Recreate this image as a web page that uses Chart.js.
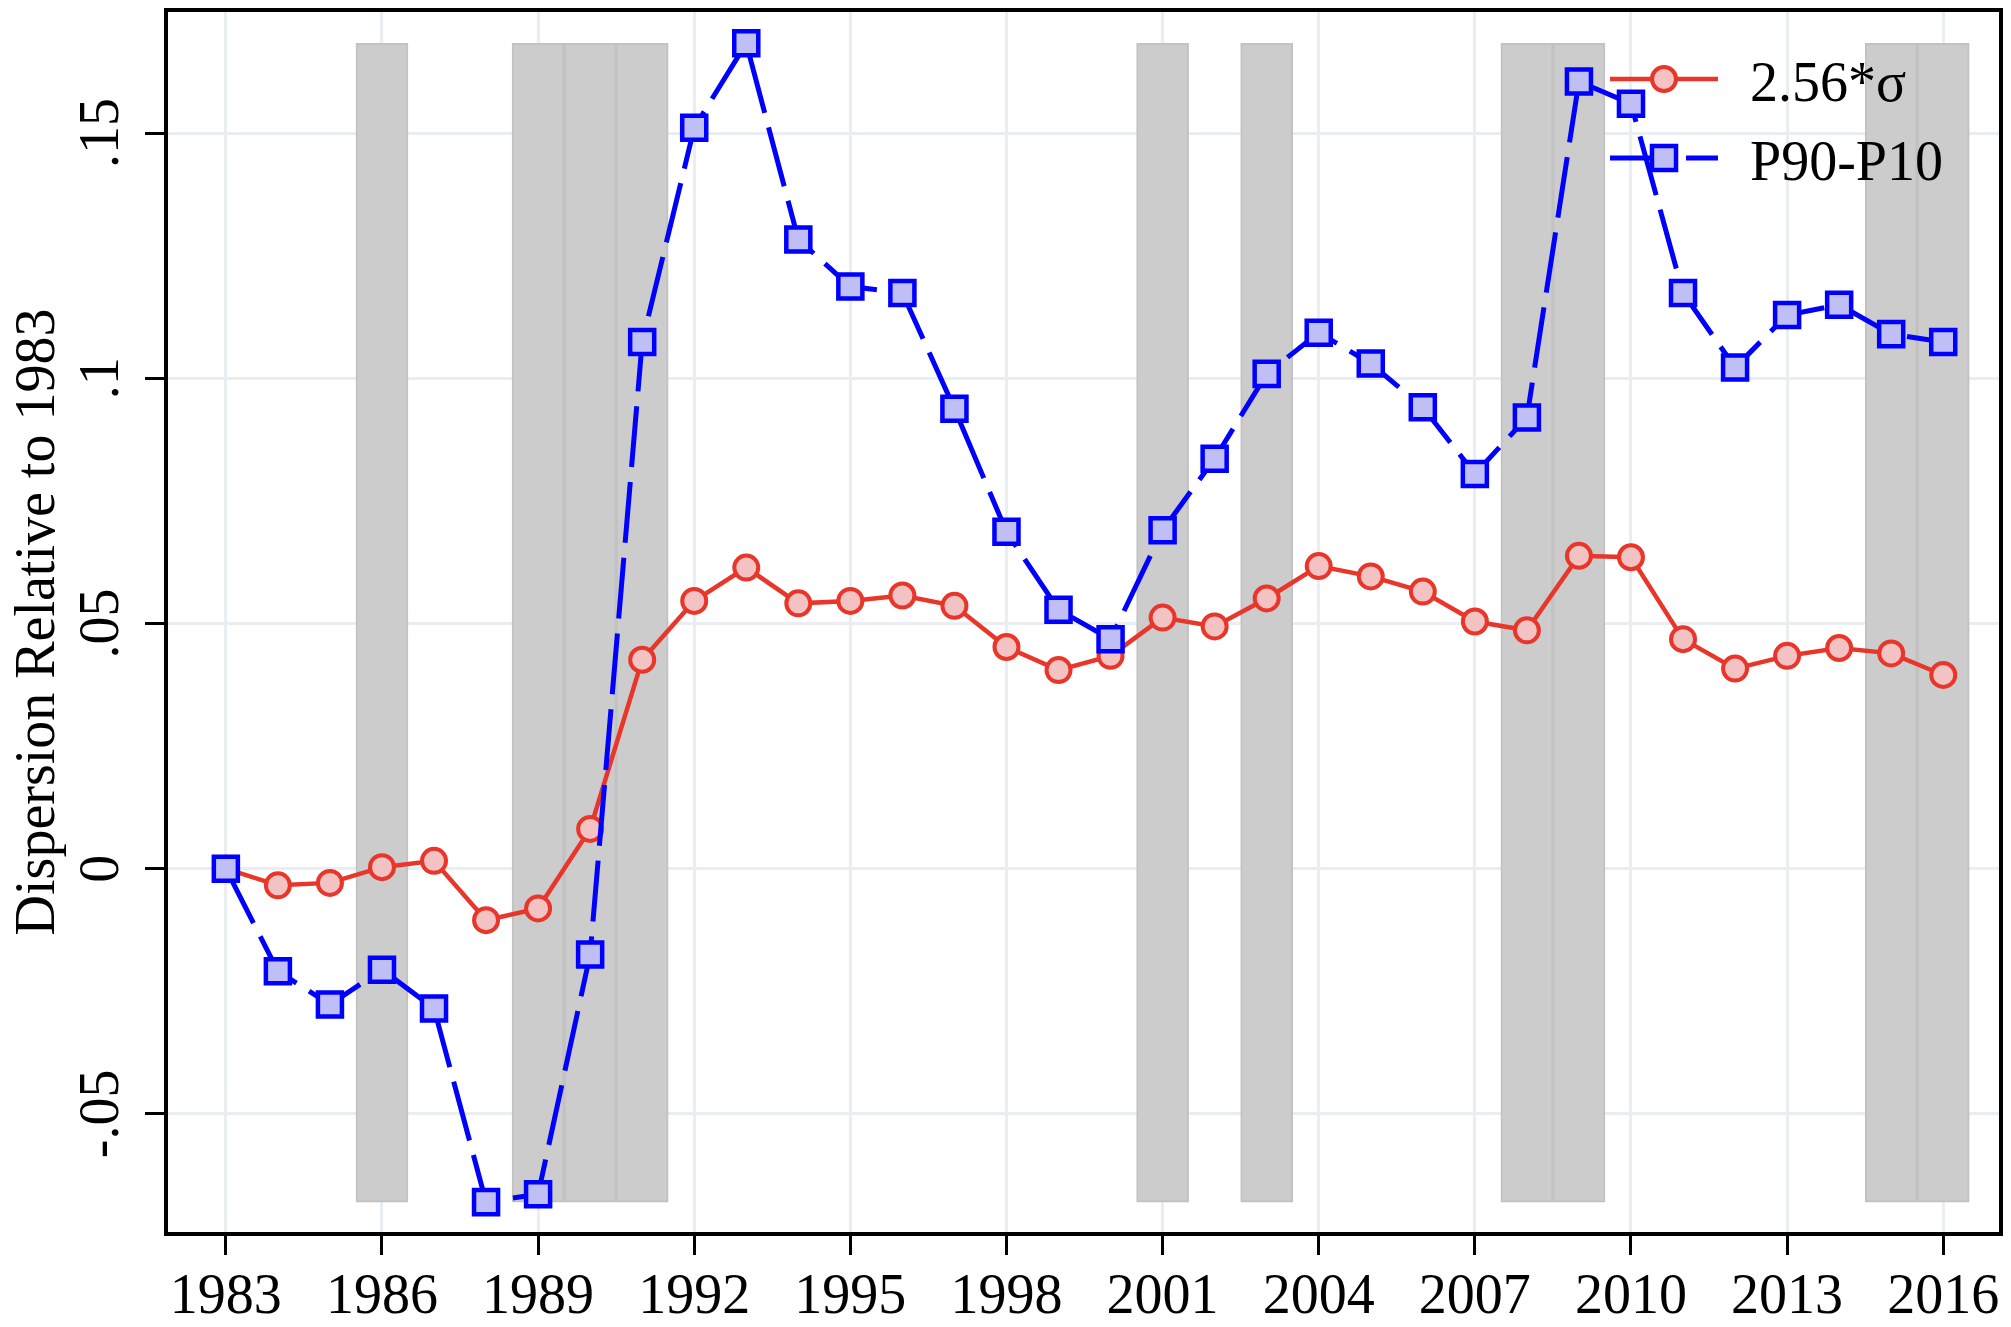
<!DOCTYPE html>
<html>
<head>
<meta charset="utf-8">
<script src="https://cdn.jsdelivr.net/npm/chart.js@4.4.1/dist/chart.umd.min.js"></script>
<style>
  html, body { margin: 0; padding: 0; background: #fff; }
  #wrap { width: 2011px; height: 1327px; }
</style>
</head>
<body>
<div id="wrap"><canvas id="dispChart" width="2011" height="1327"></canvas></div>
<script>
var years = [1983, 1984, 1985, 1986, 1987, 1988, 1989, 1990, 1991, 1992, 1993, 1994,
             1995, 1996, 1997, 1998, 1999, 2000, 2001, 2002, 2003, 2004, 2005, 2006,
             2007, 2008, 2009, 2010, 2011, 2012, 2013, 2014, 2015, 2016];
var sigma256 = [0, -0.0034, -0.0029, 0.0003, 0.0016, -0.0105, -0.0081, 0.0081, 0.0426, 0.0546, 0.0614, 0.0541,
                0.0546, 0.0557, 0.0536, 0.0452, 0.0405, 0.0434, 0.0512, 0.0494, 0.0551, 0.0617, 0.0596, 0.0565,
                0.0504, 0.0486, 0.0638, 0.0635, 0.0468, 0.0408, 0.0434, 0.0450, 0.0439, 0.0395];
var p90p10 = [0, -0.0209, -0.0277, -0.0206, -0.0285, -0.0680, -0.0664, -0.0175, 0.1074, 0.1511, 0.1683, 0.1283,
              0.1187, 0.1174, 0.0938, 0.0687, 0.0528, 0.0468, 0.0690, 0.0836, 0.1009, 0.1093, 0.1030, 0.0941,
              0.0805, 0.0920, 0.1605, 0.1560, 0.1174, 0.1022, 0.1129, 0.1150, 0.1090, 0.1074];
var recessionYears = [1986, 1989, 1990, 1991, 2001, 2003, 2008, 2009, 2015, 2016];
var xTicks = [1983, 1986, 1989, 1992, 1995, 1998, 2001, 2004, 2007, 2010, 2013, 2016];
var yTicks = [-0.05, 0, 0.05, 0.1, 0.15];
var yTickLabels = ['-.05', '0', '.05', '.1', '.15'];
var seriesNames = ['2.56*\u03c3', 'P90-P10'];

Chart.defaults.font.family = "'Liberation Serif', 'Times New Roman', serif";
Chart.defaults.color = '#000';

// shaded bands run from the lowest to the highest plotted value
var lo = Math.min.apply(null, p90p10.concat(sigma256));
var hi = Math.max.apply(null, p90p10.concat(sigma256));

function pairs(vals) {
    return years.map(function(y, i) { return {x: y, y: vals[i]}; });
}

function noPadding(scale) {
    scale.paddingLeft = 0;
    scale.paddingRight = 0;
    scale.paddingTop = 0;
    scale.paddingBottom = 0;
}

var frameAndLegend = {
    id: 'frameAndLegend',
    afterDraw: function(chart) {
        var ctx = chart.ctx;
        var a = chart.chartArea;
        ctx.save();
        ctx.strokeStyle = '#000';
        ctx.lineWidth = 4;
        ctx.strokeRect(a.left, a.top, a.right - a.left, a.bottom - a.top);

        var rows = [chart.data.datasets[1], chart.data.datasets[2]];
        var x0 = a.right - 391, x1 = a.right - 283, xt = a.right - 251;
        rows.forEach(function(ds, i) {
            var y = a.top + 69 + i * 79;
            var xm = (x0 + x1) / 2;
            ctx.save();
            ctx.strokeStyle = ds.borderColor;
            ctx.lineWidth = ds.borderWidth;
            ctx.setLineDash(ds.borderDash || []);
            ctx.beginPath();
            ctx.moveTo(x0, y);
            ctx.lineTo(x1, y);
            ctx.stroke();
            ctx.restore();
            ctx.fillStyle = ds.pointBackgroundColor;
            ctx.strokeStyle = ds.pointBorderColor;
            ctx.lineWidth = ds.pointBorderWidth;
            ctx.beginPath();
            if (ds.pointStyle === 'rect') {
                var h = ds.pointRadius * Math.SQRT1_2;
                ctx.rect(xm - h, y - h, 2 * h, 2 * h);
            } else {
                ctx.arc(xm, y, ds.pointRadius, 0, Math.PI * 2);
            }
            ctx.fill();
            ctx.stroke();
            ctx.fillStyle = '#000';
            ctx.font = "56px 'Liberation Serif', 'Times New Roman', serif";
            ctx.textAlign = 'left';
            ctx.textBaseline = 'middle';
            ctx.fillText(ds.label, xt, y + 7);
        });
        ctx.restore();
    }
};

var ctx = document.getElementById('dispChart').getContext('2d');
var chart = new Chart(ctx, {
    type: 'line',
    data: {
        datasets: [
            {
                type: 'bar',
                label: 'recession',
                data: recessionYears.map(function(y) { return {x: y, y: [lo, hi]}; }),
                backgroundColor: '#cccccc',
                borderColor: '#c2c2c2',
                borderWidth: 2,
                borderSkipped: false,
                barPercentage: 1,
                categoryPercentage: 1,
                order: 3
            },
            {
                label: seriesNames[0],
                data: pairs(sigma256),
                borderColor: '#e8372a',
                borderWidth: 4.5,
                pointStyle: 'circle',
                pointRadius: 12,
                pointBorderWidth: 4,
                pointBackgroundColor: '#f3c3c3',
                pointBorderColor: '#e8372a',
                tension: 0,
                fill: false,
                order: 2
            },
            {
                label: seriesNames[1],
                data: pairs(p90p10),
                borderColor: '#0000ff',
                borderWidth: 5,
                borderDash: [61, 15],
                pointStyle: 'rect',
                pointRadius: 17,
                pointBorderWidth: 4.5,
                pointBackgroundColor: '#bfbff6',
                pointBorderColor: '#0000ff',
                tension: 0,
                fill: false,
                order: 1
            }
        ]
    },
    options: {
        responsive: false,
        animation: false,
        devicePixelRatio: 1,
        events: [],
        layout: {
            autoPadding: false,
            padding: {top: 10, right: 10, left: 0, bottom: 0}
        },
        scales: {
            x: {
                type: 'linear',
                min: 1981.85,
                max: 2017.11,
                offset: false,
                afterBuildTicks: function(scale) {
                    scale.ticks = xTicks.map(function(v) { return {value: v}; });
                },
                afterFit: function(scale) {
                    scale.height = 93;
                    noPadding(scale);
                },
                grid: {
                    offset: false,
                    color: '#e8eef1',
                    lineWidth: 3,
                    tickColor: '#000',
                    tickWidth: 3,
                    tickLength: 21
                },
                border: {display: false},
                ticks: {
                    font: {size: 56},
                    padding: 10,
                    maxRotation: 0,
                    autoSkip: false,
                    callback: function(value) { return String(value); }
                }
            },
            y: {
                type: 'linear',
                min: -0.0745,
                max: 0.1751,
                afterBuildTicks: function(scale) {
                    scale.ticks = yTicks.map(function(v) { return {value: v}; });
                },
                afterFit: function(scale) {
                    scale.width = 166;
                    noPadding(scale);
                },
                grid: {
                    color: '#e8eef1',
                    lineWidth: 3,
                    tickColor: '#000',
                    tickWidth: 3,
                    tickLength: 21
                },
                border: {display: false},
                title: {
                    display: true,
                    text: 'Dispersion Relative to 1983',
                    font: {size: 56, lineHeight: 1},
                    padding: {top: 11, bottom: 0}
                },
                ticks: {
                    font: {size: 56},
                    padding: -3,
                    minRotation: 90,
                    maxRotation: 90,
                    crossAlign: 'center',
                    autoSkip: false,
                    callback: function(value, index) { return yTickLabels[index]; }
                }
            }
        },
        plugins: {
            legend: {display: false},
            tooltip: {enabled: false}
        }
    },
    plugins: [frameAndLegend]
});
</script>
</body>
</html>
